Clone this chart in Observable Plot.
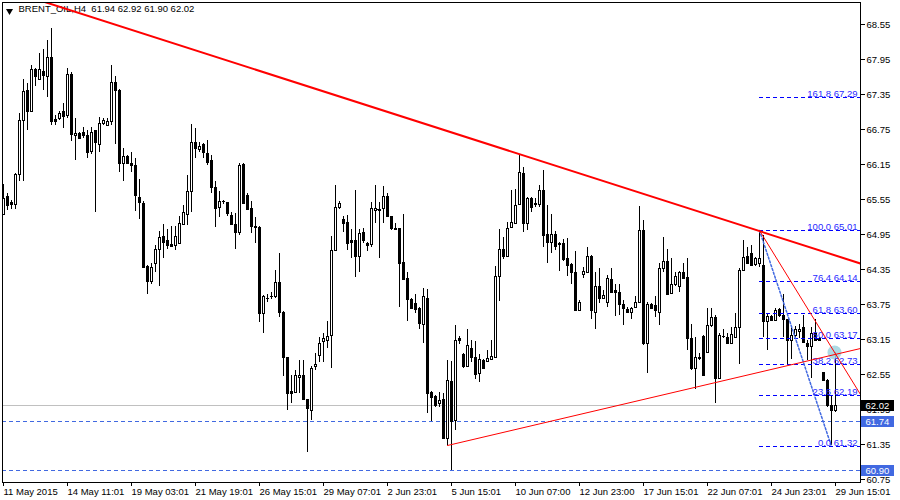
<!DOCTYPE html>
<html><head><meta charset="utf-8">
<script src="https://cdn.jsdelivr.net/npm/d3@7"></script>
<script src="https://cdn.jsdelivr.net/npm/@observablehq/plot@0.6"></script>
<style>
body{margin:0;background:#fff}
#chart{width:900px;height:500px}
</style>
</head><body><div id="chart"></div>
<script>
// ---- data (H4 bars, index 0 = 11 May 2015) ----
const open=[65.29,65.60,65.47,65.47,65.97,66.90,67.42,67.06,67.77,67.61,
67.74,67.66,67.98,66.92,66.94,67.06,66.99,67.70,66.65,66.68,
66.70,66.65,66.38,66.73,66.50,66.86,66.82,66.88,67.55,67.42,
66.16,66.29,66.16,66.14,65.59,65.48,64.40,64.15,64.45,64.70,
64.91,64.84,64.77,64.76,64.80,65.12,65.30,65.69,66.52,66.40,
66.50,66.34,66.22,65.75,65.42,65.51,65.49,65.27,65.12,64.99,
66.15,65.62,65.39,65.09,65.07,63.60,63.86,63.88,63.88,64.12,
63.62,62.84,62.26,62.24,62.50,62.53,62.13,61.94,62.68,62.88,
63.11,63.14,63.22,64.68,65.42,65.21,65.15,64.84,64.85,64.58,
64.98,64.79,64.77,65.36,65.36,65.39,65.60,65.25,65.06,65.05,
64.47,64.19,63.84,63.76,63.69,63.40,63.86,62.24,62.17,62.06,
62.13,61.45,62.43,61.77,63.16,62.89,62.69,63.00,62.84,62.56,
62.79,62.78,62.81,62.85,64.23,64.69,64.58,65.07,65.14,65.46,
66.00,65.13,65.56,65.46,65.46,65.70,64.95,64.82,64.95,64.80,
64.80,64.54,64.43,64.30,63.65,64.27,64.30,64.58,63.62,64.05,
63.86,63.79,64.17,63.99,63.95,63.75,63.66,63.61,63.70,63.78,
65.02,63.08,63.75,63.74,63.62,64.36,64.48,63.94,64.09,64.05,
64.30,64.21,63.16,62.65,62.83,63.21,62.92,63.39,63.53,62.49,
63.21,63.19,63.09,63.19,63.35,64.34,64.57,64.62,64.43,64.45,
64.42,63.46,63.54,63.48,63.66,63.56,63.49,63.13,63.22,63.28,
63.35,63.09,63.03,63.26,63.16,62.59,62.45,62.02,61.94];
const high=[65.80,65.65,65.54,66.00,67.02,67.61,67.53,67.85,67.79,68.06,
68.12,68.28,68.48,66.99,67.05,67.19,67.79,67.73,66.93,66.70,
66.79,66.73,66.79,66.73,66.96,66.93,66.94,67.85,67.65,67.44,
66.42,66.30,66.36,66.26,65.90,65.51,64.42,64.45,64.76,65.00,
65.12,65.03,65.08,65.08,65.25,65.45,65.96,66.84,66.76,66.52,
66.51,66.56,66.30,65.85,65.68,65.54,65.50,65.33,65.31,66.17,
66.16,65.65,65.52,65.24,65.08,63.90,63.93,63.96,64.34,64.63,
63.63,62.85,62.53,62.62,62.79,62.79,62.13,62.69,62.91,63.19,
63.25,63.46,64.92,65.79,65.52,65.25,65.28,65.03,65.70,65.03,
65.05,64.82,65.50,65.79,65.50,65.77,65.65,65.26,65.13,65.06,
65.30,64.30,63.85,63.92,63.70,64.02,64.00,62.26,62.19,62.25,
62.23,62.79,62.77,63.39,63.20,62.91,63.33,63.13,63.12,62.89,
62.80,62.96,63.13,64.40,65.03,64.90,65.16,65.70,65.72,66.30,
66.09,65.59,65.59,65.56,65.79,66.04,65.45,65.30,65.00,64.82,
64.86,64.88,64.45,64.65,63.82,64.39,64.72,64.59,64.30,64.36,
63.99,64.25,64.36,64.10,64.10,63.82,63.70,63.70,63.88,65.43,
65.19,63.79,63.77,63.88,64.46,64.90,64.69,64.53,64.29,64.32,
64.46,64.53,63.41,63.19,62.91,63.22,63.69,63.69,63.56,63.25,
63.33,63.25,63.35,63.59,64.36,64.85,64.73,64.76,64.56,65.01,
64.93,63.59,63.56,63.68,63.69,63.92,63.50,63.37,63.37,63.41,
63.56,63.13,63.36,63.49,63.18,62.59,62.46,62.19,62.92];
const low=[65.27,65.36,65.37,65.38,65.85,65.86,66.73,67.05,67.48,67.60,
67.42,67.30,66.82,66.82,66.90,66.76,66.93,66.55,66.22,66.58,
66.59,66.26,66.32,65.33,66.36,66.82,66.81,66.82,66.50,66.02,
65.86,66.16,66.02,65.35,65.20,64.36,63.92,64.10,64.30,64.05,
64.54,64.70,64.73,64.68,64.79,65.10,65.10,65.33,66.25,66.36,
66.25,66.13,65.65,65.07,65.24,65.46,65.26,65.11,64.69,64.93,
65.47,65.36,64.96,64.80,63.45,63.25,63.79,63.83,63.85,63.53,
62.52,61.94,62.06,62.22,62.22,62.12,61.22,61.76,62.62,62.76,
62.76,62.99,62.65,64.65,65.37,64.99,64.68,64.53,64.22,64.30,
64.79,64.66,64.72,65.14,64.53,65.14,65.24,65.01,65.01,63.70,
64.16,63.46,63.68,63.59,63.33,63.09,61.89,61.74,61.99,61.99,
61.43,61.33,60.90,61.59,63.06,62.65,62.67,62.76,62.46,62.41,
62.65,62.76,62.79,62.82,63.81,64.52,64.56,65.06,65.13,65.45,
64.99,65.02,65.33,65.41,65.42,64.72,64.46,64.62,64.68,64.32,
64.48,64.23,64.10,63.64,63.63,64.19,64.29,63.50,63.33,63.76,
63.85,63.70,63.94,63.54,63.56,63.39,63.59,63.50,63.68,63.76,
63.05,62.56,63.66,63.53,63.39,64.30,63.92,63.93,64.06,63.96,
64.17,62.96,62.62,62.30,62.79,62.52,62.91,63.36,62.06,62.47,
63.16,63.06,63.06,63.18,62.73,64.33,64.44,64.41,64.40,64.39,
63.18,62.96,63.47,63.47,63.53,63.19,62.70,62.80,63.19,63.16,
63.08,62.79,62.48,63.12,63.12,62.44,61.99,61.33,61.90];
const close=[65.57,65.45,65.49,65.97,66.90,67.40,67.06,67.77,67.65,67.77,
67.67,67.98,66.89,66.88,67.02,66.98,67.70,66.66,66.68,66.59,
66.64,66.36,66.69,66.52,66.86,66.90,66.88,67.55,67.42,66.16,
66.29,66.16,66.14,65.61,65.50,64.38,64.15,64.38,64.70,64.90,
64.82,64.76,64.75,64.91,65.13,65.32,65.69,66.52,66.42,66.46,
66.35,66.19,65.75,65.39,65.52,65.52,65.31,65.12,64.99,66.13,
65.48,65.38,65.08,65.07,63.59,63.88,63.86,63.88,64.12,63.61,
62.84,62.23,62.22,62.53,62.53,62.13,61.96,62.66,62.73,63.09,
63.16,63.21,64.68,65.41,65.48,65.13,64.80,64.82,64.58,64.96,
64.84,64.76,65.39,65.39,65.38,65.60,65.26,65.06,65.04,64.46,
64.17,63.84,63.69,63.67,63.42,63.88,62.23,62.16,62.02,62.11,
61.46,62.45,61.74,63.14,63.13,62.69,63.04,62.84,62.55,62.81,
62.66,62.82,62.86,64.23,64.70,64.58,65.06,65.16,65.45,66.01,
65.13,65.56,65.41,65.48,65.70,64.94,64.82,64.95,64.75,64.78,
64.52,64.42,64.29,63.64,63.78,64.31,64.58,63.65,64.05,63.86,
63.90,64.19,63.96,63.96,63.75,63.68,63.62,63.69,63.78,65.01,
63.08,63.75,63.68,63.64,64.36,64.48,63.93,64.09,64.23,64.30,
64.19,63.16,62.65,62.84,62.85,62.53,63.39,63.53,62.49,63.22,
63.20,63.08,63.23,63.35,64.34,64.56,64.45,64.42,64.53,64.53,
63.46,63.54,63.48,63.65,63.56,63.49,63.14,63.22,63.33,63.33,
63.10,63.03,63.26,63.14,63.14,62.45,62.02,61.94,62.02];

const timeLabels=["11 May 2015","14 May 11:01","19 May 03:01","21 May 19:01","26 May 15:01",
"29 May 07:01","2 Jun 23:01","5 Jun 15:01","10 Jun 07:00","12 Jun 23:00","17 Jun 15:01",
"22 Jun 07:01","24 Jun 23:01","29 Jun 15:01"];
const barsPerLabel=16;
const priceTicks=[68.55,67.95,67.35,66.75,66.15,65.55,64.95,64.35,63.75,63.15,62.55,61.95,61.35,60.75];

const fibPct=[0,23.6,38.2,50,61.8,76.4,100,161.8];
const fibPrice=[61.32,62.19,62.73,63.17,63.60,64.14,65.01,67.29];
const fibFrom={i:189,p:65.01}, fibTo={i:207,p:61.32};

const upperTrendI=[129,189], upperTrendP=[66.33,65.01];
const lowerTrendI=[111,172.9], lowerTrendP=[61.33,62.33];
const fallLineI=[189,213.7], fallLineP=[65.01,62.275];
const cursorMark={i:207.75,p:62.93};

const symbol="BRENT_OIL,H4";
const bidPrice=62.02;
const alertPrices=[61.74,60.90];

// ---- build ----
const X0=-0.25, X1=214.25;
const bars=open.map((o,i)=>({i,o,h:high[i],l:low[i],c:close[i],up:close[i]>=o}));
const doji=bars.filter(d=>Math.abs(d.c-d.o)<0.02);
function ray(I,P,from,to){const s=(P[1]-P[0])/(I[1]-I[0]);return [from,to].map(i=>({i,p:P[0]+s*(i-I[0])}));}
const upper=ray(upperTrendI,upperTrendP,X0,X1);
const lower=ray(lowerTrendI,lowerTrendP,lowerTrendI[0],X1);
const fall=ray(fallLineI,fallLineP,fallLineI[0],X1);
const fib=fibPct.map((q,k)=>({q,p:fibPrice[k]}));
const last=bars[bars.length-1];
const title=`${symbol}  ${last.o.toFixed(2)} ${last.h.toFixed(2)} ${last.l.toFixed(2)} ${last.c.toFixed(2)}`;
const boxes=[{p:bidPrice,fill:"black"},...alertPrices.map(p=>({p,fill:"#4169e1"}))];
const tickIdx=timeLabels.map((_,k)=>k*barsPerLabel);
const FONT="'Liberation Sans', Arial, sans-serif";
const CRISP="crispEdges";

const chart=Plot.plot({
  width:900,height:500,
  marginLeft:2,marginRight:40,marginTop:2,marginBottom:18,
  style:{fontFamily:FONT,fontSize:"9.5px",background:"white",color:"black"},
  x:{domain:[X0,X1],round:true},
  y:{domain:[60.6986,68.9271],round:true},
  marks:[
    Plot.ruleY([bidPrice],{stroke:"#c0c0c0",shapeRendering:CRISP}),
    Plot.ruleY(alertPrices,{stroke:"#4169e1",strokeDasharray:"4,3",shapeRendering:CRISP}),
    Plot.ruleX(bars,{x:"i",y1:"l",y2:"h",stroke:"black",shapeRendering:CRISP}),
    Plot.rect(bars,{x1:d=>d.i-0.25,x2:d=>d.i+0.25,y1:d=>Math.min(d.o,d.c),y2:d=>Math.max(d.o,d.c),
      fill:d=>d.up?"white":"black",stroke:"black",shapeRendering:CRISP}),
    Plot.ruleY(doji,{y:d=>(d.o+d.c)/2,x1:d=>d.i-0.375,x2:d=>d.i+0.375,stroke:"black",shapeRendering:CRISP}),
    Plot.dot([cursorMark],{x:"i",y:"p",r:7,fill:"#9fd4df",fillOpacity:0.85,stroke:null}),
    Plot.ruleY(fib,{y:"p",x1:fibFrom.i,x2:X1,stroke:"#0000ff",strokeDasharray:"4,3",shapeRendering:CRISP}),
    Plot.line([fibFrom,fibTo],{x:"i",y:"p",stroke:"#4169e1",strokeDasharray:"2,2"}),
    Plot.text(fib,{x:213.6,y:"p",text:d=>`${d.q.toFixed(1)} ${d.p.toFixed(2)}`,textAnchor:"end",lineAnchor:"bottom",dy:-1,fill:"#2a2aff",fontSize:9.5}),
    Plot.text([title],{frameAnchor:"top-left",dx:16,dy:3,textAnchor:"start",lineAnchor:"top",fill:"black"}),
    Plot.dot([0],{frameAnchor:"top-left",dx:7,dy:8.5,symbol:"triangle",rotate:180,r:2.6,fill:"black",stroke:null}),
    Plot.line(lower,{x:"i",y:"p",stroke:"#ff0000",strokeWidth:1,clip:true}),
    Plot.line(fall,{x:"i",y:"p",stroke:"#ff0000",strokeWidth:1,clip:true}),
    Plot.line(upper,{x:"i",y:"p",stroke:"#ff0000",strokeWidth:2,clip:true}),
    Plot.frame({stroke:"black",shapeRendering:CRISP}),
    Plot.axisY(priceTicks,{anchor:"right",tickSize:4,tickPadding:2,tickFormat:d=>d.toFixed(2),label:null,fill:"black",stroke:"black"}),
    Plot.axisX(tickIdx,{anchor:"bottom",tickSize:4,tickPadding:2,textAnchor:"start",tickFormat:d=>timeLabels[d/barsPerLabel],label:null,fill:"black",stroke:"black"}),
    Plot.rect(boxes,{x1:214.6,x2:222.4,y1:d=>d.p-0.085,y2:d=>d.p+0.085,fill:"fill",stroke:"fill",shapeRendering:CRISP}),
    Plot.text(boxes,{x:215.6,y:"p",text:d=>d.p.toFixed(2),textAnchor:"start",fill:"white"})
  ]
});
document.getElementById("chart").appendChild(chart);
</script>
</body></html>
